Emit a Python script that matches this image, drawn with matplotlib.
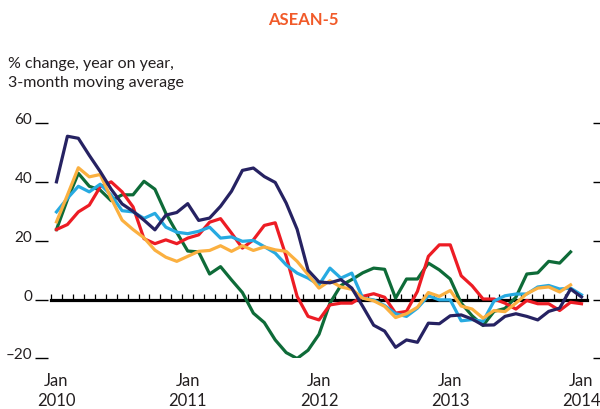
import numpy as np
import matplotlib
matplotlib.use('Agg')
import matplotlib.pyplot as plt
from matplotlib.ticker import FixedLocator

plt.rcParams['font.family'] = ['Lato', 'DejaVu Sans']

# monthly, Jan 2010 .. Jan 2014 (index 0 = Jan 2010)
months = np.arange(49)
year_labels = ['Jan\n2010', 'Jan\n2011', 'Jan\n2012', 'Jan\n2013', 'Jan\n2014']
year_pos = [0, 12, 24, 36, 48]
nan = np.nan

navy = [40, 55.5, 54.8, 49, 43.5, 37.5, 32.5, 30, 27, 23.7,
        28.7, 29.6, 32.6, 26.9, 27.7, 31.7, 36.8, 43.9, 44.7, 41.8,
        39.8, 32.8, 23.9, 10, 6, 5.7, 6.8, 3.9, -2.3, -8.7,
        -10.7, -16.2, -13.7, -14.5, -8, -8.2, -5.5, -5.2, -6.6, -8.7,
        -8.6, -5.7, -4.8, -5.7, -6.9, -4, -2.9, 3.6, 0.9]
green = [23.8, 34, 42.9, 38.5, 37.2, 33.6, 35.6, 35.6, 40.2, 37.5,
         29.3, 22.8, 16.5, 16.2, 8.7, 11.2, 6.7, 2.4, -4.6, -7.8,
         -13.7, -18, -20, -17.2, -11.8, -1.2, 4.8, 6.8, 9.1, 10.7,
         10.3, 0.5, 7, 7, 12.4, 10.1, 7, -1.2, -5.5, -8.8,
         -4, -3, 0.8, 8.7, 9.1, 13, 12.4, 16.2, nan]
red = [23.8, 25.5, 29.8, 32.1, 38.3, 40, 36.6, 31.5, 20.7, 19,
       20.3, 19, 20.9, 22, 26.3, 27.5, 22.6, 17.5, 20.3, 25.2,
       26.1, 14.7, 1.1, -5.7, -6.9, -1.8, -1.2, -1.2, 1.1, 2,
       0.8, -4.6, -4, 2.8, 14.7, 18.6, 18.6, 8.1, 4.7, 0.2,
       0.2, -1.2, -3.2, -0.3, -1.4, -1.4, -3.7, -0.9, -1.4]
lightblue = [29.8, 34.4, 38.5, 36.6, 39.2, 35.5, 30.2, 29.8, 27.6, 29.3,
             24.6, 22.9, 22.4, 23.2, 24.6, 20.9, 21.3, 19.8, 20.1, 18,
             15.8, 11.8, 9, 7.3, 5, 10.7, 7.3, 9, 0.5, -0.1,
             -2, -4.8, -5.7, -2.9, 1.3, -0.1, -0.1, -7.2, -6.8, -7.4,
             -0.5, 1.3, 1.9, 1.9, 4.3, 4.8, 3.6, 3.9, 1.6]
orange = [26.4, 35.5, 44.8, 41.7, 42.5, 34.4, 27, 23.8, 21, 16.8,
          14.4, 13, 14.7, 16.4, 16.7, 18.3, 16.4, 18.3, 16.7, 17.9,
          16.9, 16.4, 13, 8.5, 3.9, 6.4, 4.3, 3.5, 0.5, -0.4,
          -2.3, -6.1, -4.8, -2.6, 2.4, 1.1, 3.1, -2.2, -3.2, -6.3,
          -3.7, -4.1, -1.2, 2, 3.9, 4.3, 2.6, 5, nan]

yticks = [-20, 0, 20, 40, 60]
text_col = '#231f20'

fig = plt.figure(figsize=(6, 4.1), dpi=100)
ax = fig.add_axes([0.085, 0.1232, 0.8933, 0.5744])

lw = 2.3
ax.plot(months, green, color='#0e6b38', lw=lw, zorder=3)
ax.plot(months, red, color='#ed1c24', lw=lw, zorder=3)
ax.plot(months, lightblue, color='#27aae1', lw=lw, zorder=3)
ax.plot(months, orange, color='#fbb040', lw=lw, zorder=3)
ax.plot(months, navy, color='#262262', lw=lw, zorder=3)

ax.set_xlim(-0.5, 48.5)
ax.set_ylim(-20, 60)

# zero line with monthly ticks pointing up
ax.spines['bottom'].set_position(('data', 0))
ax.spines['bottom'].set_linewidth(2.3)
ax.spines['bottom'].set_color('black')
ax.spines['top'].set_visible(False)
ax.spines['left'].set_visible(False)
ax.spines['right'].set_visible(False)
ax.xaxis.set_major_locator(FixedLocator(np.arange(-0.5, 49, 1)))
ax.tick_params(axis='x', direction='in', length=4, width=0.9, color='black', labelbottom=False)

# y ticks on both sides
ax.spines['left'].set_position(('outward', 2.5))
ax.spines['right'].set_position(('outward', 4))
ax.set_yticks(yticks)
ax.set_yticklabels([str(v) if v >= 0 else '\u201320' for v in yticks])
ax.yaxis.set_ticks_position('both')
ax.tick_params(axis='y', which='major', direction='out', width=1.0, color='black',
               labelsize=11, labelcolor=text_col, pad=1.5)
ax.tick_params(axis='y', which='major', left=True, right=True, length=9.5)
for lab in ax.get_yticklabels():
    lab.set_verticalalignment('baseline')
for t in ax.yaxis.get_major_ticks():
    t.tick2line.set_markersize(6)

# year labels at the bottom
sec = ax.secondary_xaxis('bottom')
sec.set_xticks(year_pos)
sec.set_xticklabels(year_labels)
sec.spines['bottom'].set_visible(False)
sec.tick_params(axis='x', length=0, pad=10, labelsize=12, labelcolor=text_col)
for lab in sec.get_xticklabels():
    lab.set_linespacing(1.25)

fig.text(303 / 600, 1 - 20 / 410, 'ASEAN-5', ha='center', va='center',
         fontsize=12, fontweight='bold', color='#f15a29')
fig.text(8 / 600, 1 - 57 / 410, '% change, year on year,\n3-month moving average',
         ha='left', va='top', fontsize=11.5, color=text_col, linespacing=1.45)

fig.savefig('out.png', dpi=100)
